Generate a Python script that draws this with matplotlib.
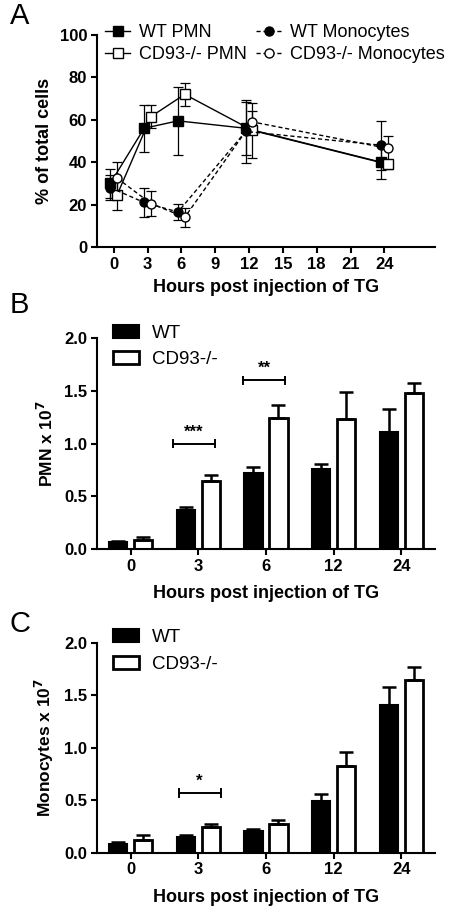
import numpy as np
import matplotlib
matplotlib.use("Agg")
import matplotlib.pyplot as plt
from matplotlib.patches import Patch

plt.rcParams['font.family'] = ['Liberation Sans', 'DejaVu Sans']
plt.rcParams['axes.linewidth'] = 1.5

# Panel A: % of total cells
hours = np.array([0, 3, 6, 12, 24])
wt_pmn = [30, 56, 59.5, 56, 40]
wt_pmn_err = [7, 11, 16, 12.5, 8]
ko_pmn = [24.5, 61.5, 72, 55, 39]
ko_pmn_err = [7, 5.5, 5.5, 13, 2]
wt_mono = [28, 21, 16.5, 54.5, 48]
wt_mono_err = [6, 7, 4, 15, 11.5]
ko_mono = [32.5, 20.5, 14, 59, 46.5]
ko_mono_err = [7.5, 6, 4.5, 5, 6]

# Panels B and C: cell counts (x 10^7)
groups = ["0", "3", "6", "12", "24"]
pmn_wt = [0.07, 0.37, 0.72, 0.755, 1.11]
pmn_wt_err = [0.01, 0.03, 0.06, 0.05, 0.22]
pmn_ko = [0.09, 0.645, 1.245, 1.23, 1.485]
pmn_ko_err = [0.025, 0.055, 0.12, 0.26, 0.095]
mono_wt = [0.08, 0.145, 0.21, 0.495, 1.41]
mono_wt_err = [0.02, 0.025, 0.015, 0.065, 0.165]
mono_ko = [0.125, 0.24, 0.27, 0.83, 1.645]
mono_ko_err = [0.045, 0.03, 0.04, 0.13, 0.125]

fig = plt.figure(figsize=(4.72, 9.14), dpi=100)

TICK = 12
LABEL = 13
LEG = 13

# ---------- A ----------
axA = fig.add_axes([0.205, 0.7298, 0.717, 0.2319])
off = 0.3
kw = dict(capsize=3.5, elinewidth=0.9, capthick=0.9, color='black', lw=1)
c1 = axA.errorbar(hours - off, wt_pmn, yerr=wt_pmn_err, fmt='-s', ms=7,
                  mfc='black', mec='black', **kw)
c2 = axA.errorbar(hours + off, ko_pmn, yerr=ko_pmn_err, fmt='-s', ms=7,
                  mfc='white', mec='black', **kw)
c3 = axA.errorbar(hours - off, wt_mono, yerr=wt_mono_err, fmt='o', ls=(0, (3, 2)),
                  ms=6.5, mfc='black', mec='black', **kw)
c4 = axA.errorbar(hours + off, ko_mono, yerr=ko_mono_err, fmt='o', ls=(0, (3, 2)),
                  ms=6.5, mfc='white', mec='black', **kw)
axA.set_xlim(-1.5, 28.5)
axA.set_ylim(0, 100)
axA.set_xticks(np.arange(0, 25, 3))
axA.set_yticks(np.arange(0, 101, 20))
axA.set_ylabel('% of total cells', fontsize=LABEL, fontweight='bold', labelpad=5)
axA.set_xlabel('Hours post injection of TG', fontsize=LABEL, fontweight='bold', labelpad=5)
axA.legend([c1[0], c2[0], c3[0], c4[0]],
           ['WT PMN', 'CD93-/- PMN', 'WT Monocytes', 'CD93-/- Monocytes'],
           ncol=2, loc='upper left', bbox_to_anchor=(0.024, 1.05),
           frameon=False, fontsize=LEG, handlelength=1.4, columnspacing=0.5,
           handletextpad=0.5, labelspacing=0.25, borderaxespad=0, borderpad=0)

# ---------- B and C ----------
def bar_panel(rect, wt, wt_err, ko, ko_err, ylabel, sig):
    ax = fig.add_axes(rect)
    x = np.arange(len(groups))
    w = 0.27
    ax.bar(x - 0.185, wt, w, color='black', edgecolor='black', lw=1.5,
           yerr=[np.zeros(len(wt)), wt_err], capsize=5,
           error_kw=dict(elinewidth=1.8, capthick=1.8, ecolor='black'))
    ax.bar(x + 0.185, ko, w, color='white', edgecolor='black', lw=2,
           yerr=[np.zeros(len(ko)), ko_err], capsize=5,
           error_kw=dict(elinewidth=1.8, capthick=1.8, ecolor='black'))
    ax.set_xlim(-0.5, 4.5)
    ax.set_ylim(0, 2.0)
    ax.set_yticks(np.arange(0, 2.01, 0.5))
    ax.set_xticks(x)
    ax.set_xticklabels(groups)
    ax.set_ylabel(ylabel, fontsize=LABEL - 0.5, fontweight='bold', labelpad=6)
    ax.set_xlabel('Hours post injection of TG', fontsize=LABEL, fontweight='bold', labelpad=8)
    for g, x0, x1, yv, star in sig:
        ax.plot([g + x0, g + x1], [yv, yv], color='black', lw=1.4)
        for xe in (g + x0, g + x1):
            ax.plot([xe, xe], [yv - 0.035, yv + 0.035], color='black', lw=1.4)
        ax.text(g + (x0 + x1) / 2, yv + 0.04, star, ha='center', va='bottom',
                fontsize=12, fontweight='bold')
    hb = [Patch(facecolor='black', edgecolor='black', lw=1.5),
          Patch(facecolor='white', edgecolor='black', lw=2)]
    ax.legend(hb, ['WT', 'CD93-/-'], loc='upper left', bbox_to_anchor=(0.048, 1.065),
              frameon=False, fontsize=LEG + 0.5, handlelength=1.4, handleheight=0.7,
              handletextpad=0.7, labelspacing=0.5, borderaxespad=0, borderpad=0)
    return ax

axB = bar_panel([0.205, 0.3993, 0.717, 0.2306], pmn_wt, pmn_wt_err, pmn_ko, pmn_ko_err,
                'PMN x 10$^{\\mathbf{7}}$', [(1, -0.37, 0.24, 1.0, '***'),
                                             (2, -0.34, 0.28, 1.6, '**')])
axC = bar_panel([0.205, 0.0671, 0.717, 0.2297], mono_wt, mono_wt_err, mono_ko, mono_ko_err,
                'Monocytes x 10$^{\\mathbf{7}}$', [(1, -0.29, 0.33, 0.57, '*')])

for ax in (axA, axB, axC):
    ax.spines['top'].set_visible(False)
    ax.spines['right'].set_visible(False)
    ax.tick_params(direction='out', length=4, width=1.5, pad=3)
    for lab in ax.get_xticklabels() + ax.get_yticklabels():
        lab.set_fontweight('bold')
        lab.set_fontsize(TICK)

fig.text(0.02, 0.982, 'A', fontsize=21, va='center')
fig.text(0.02, 0.666, 'B', fontsize=21, va='center')
fig.text(0.02, 0.317, 'C', fontsize=21, va='center')

fig.savefig('out.png', dpi=100)
